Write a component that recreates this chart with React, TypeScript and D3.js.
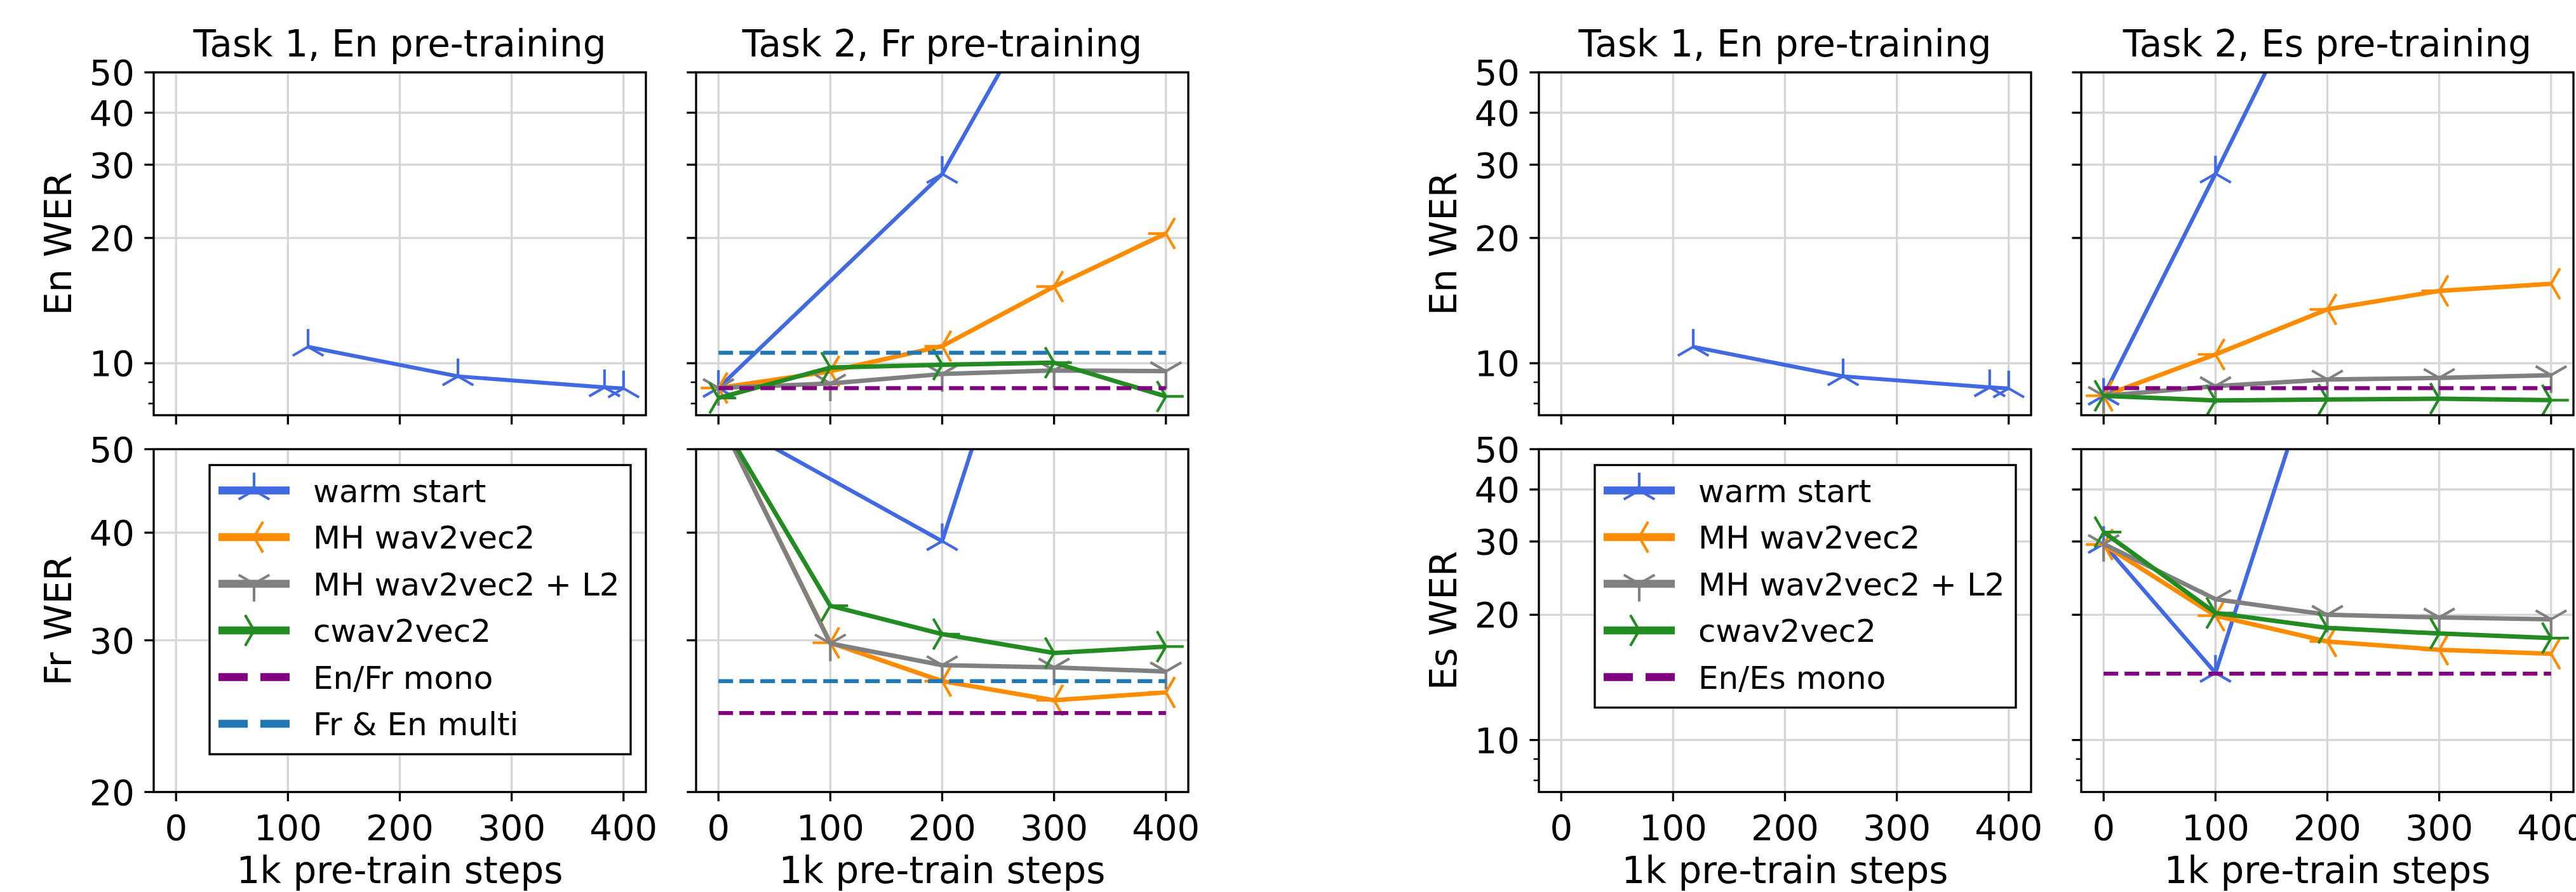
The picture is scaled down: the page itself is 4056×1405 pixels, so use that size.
import React, { useEffect } from 'react';
import * as d3 from 'd3';

// ---------- data ----------
const steps = [0, 100, 200, 300, 400];
const xTicks = [0, 100, 200, 300, 400];
const enTicks = [10, 20, 30, 40, 50];
const enMinorTicks = [8, 9];
const frTicks = [20, 30, 40, 50];

const seriesNames = ['warm start', 'MH wav2vec2', 'MH wav2vec2 + L2', 'cwav2vec2'];
const seriesColors = ['#4169e1', '#ff8c00', '#808080', '#228b22'];
const seriesMarkers = ['tri_up', 'tri_left', 'tri_down', 'tri_right'];

// Task 1: English pre-training
const enPretrainSteps = [118, 252, 383, 400];
const enPretrainEnWer = [10.95, 9.3, 8.75, 8.7];

// Task 2: French pre-training
const warmFrSteps = [0, 200, 400];
const warmFrEnWer = [8.72, 28.5, 255];
const warmFrFrWer = [54.5, 39.1, 250];
const mhFrEnWer = [8.72, 9.56, 10.99, 15.28, 20.5];
const mhFrFrWer = [54.5, 29.8, 26.9, 25.56, 26.1];
const mhl2FrEnWer = [8.72, 8.94, 9.42, 9.61, 9.57];
const mhl2FrFrWer = [54.5, 29.75, 28.07, 27.9, 27.6];
const cwFrEnWer = [8.25, 9.76, 9.92, 10.03, 8.32];
const cwFrFrWer = [54.5, 32.9, 30.5, 29.0, 29.5];
const monoFrEnWer = 8.71;
const monoFrFrWer = 24.7;
const multiFrEnWer = 10.6;
const multiFrFrWer = 26.9;

// Task 2: Spanish pre-training
const warmEsSteps = [0, 100, 200];
const warmEsEnWer = [8.35, 28.55, 100];
const warmEsEsWer = [29.6, 14.5, 99];
const mhEsEnWer = [8.35, 10.5, 13.47, 14.92, 15.52];
const mhEsEsWer = [29.5, 19.9, 17.25, 16.48, 16.12];
const mhl2EsEnWer = [8.35, 8.81, 9.14, 9.22, 9.36];
const mhl2EsEsWer = [29.6, 21.8, 20.0, 19.7, 19.5];
const cwEsEnWer = [8.35, 8.14, 8.18, 8.22, 8.15];
const cwEsEsWer = [31.6, 20.2, 18.6, 18.03, 17.58];
const monoEsEnWer = 8.71;
const monoEsEsWer = 14.44;

const frLegend = [...seriesNames, 'En/Fr mono', 'Fr & En multi'];
const esLegend = [...seriesNames, 'En/Es mono'];

// ---------- style ----------
const W = 4056;
const H = 1405;
const PW = 775;
const PH = 540;
const FONT = '"DejaVu Sans", sans-serif';
const MONO_COLOR = '#800080';
const MULTI_COLOR = '#1f77b4';
const LW = 7;
const MR = 28;

function markerPath(kind, r) {
  const a = 0.866 * r;
  const b = 0.5 * r;
  const arms = {
    tri_up: [[0, -r], [-a, b], [a, b]],
    tri_down: [[0, r], [-a, -b], [a, -b]],
    tri_left: [[-r, 0], [b, -a], [b, a]],
    tri_right: [[r, 0], [-b, -a], [-b, a]],
  }[kind];
  return arms.map(([x, y]) => `M0,0L${x},${y}`).join('');
}

function makeSeries(i, xs, ys) {
  return {
    color: seriesColors[i],
    marker: seriesMarkers[i],
    width: i === 0 ? 6.2 : LW,
    points: xs.map((x, k) => [x, ys[k]]),
  };
}

function Legend({ right, top, labels }) {
  const width = 663;
  const left = right - 24 - width;
  const rowH = 73.5;
  const height = 40 + (labels.length - 1) * rowH + 48;
  return (
    <g>
      <rect x={left} y={top} width={width} height={height} fill="white" stroke="black" strokeWidth={3.3} />
      {labels.map((label, i) => {
        const y = top + 40 + i * rowH;
        const dashed = i >= 4;
        const color = dashed ? (i === 4 ? MONO_COLOR : MULTI_COLOR) : seriesColors[i];
        return (
          <g key={label}>
            <line x1={left + 14} x2={left + 126} y1={y} y2={y} stroke={color} strokeWidth={12.5}
              strokeDasharray={dashed ? '46 20' : undefined} />
            {!dashed && (
              <path d={markerPath(seriesMarkers[i], MR)} transform={`translate(${left + 70},${y})`}
                stroke={color} strokeWidth={4.2} fill="none" />
            )}
            <text x={left + 163} y={y + 18} fontSize={50} fontFamily={FONT}>{label}</text>
          </g>
        );
      })}
    </g>
  );
}

function Panel({ id, left, top, yType, title, yLabel, yTickLabels, xTickLabels, series, hlines, legend }) {
  const x = d3.scaleLinear().domain([-20, 420]).range([left, left + PW]);
  const y = d3.scaleLog().domain(yType === 'fr' ? [20, 50] : [7.5, 50]).range([top + PH, top]);
  const major = yType === 'fr' ? frTicks : enTicks;
  const minor = yType === 'fr' ? [] : enMinorTicks;
  const line = d3.line().x((d) => x(d[0])).y((d) => y(d[1]));
  const bottom = top + PH;

  return (
    <g>
      <defs>
        <clipPath id={id}>
          <rect x={left} y={top} width={PW} height={PH} />
        </clipPath>
      </defs>
      {/* grid */}
      {xTicks.map((t) => (
        <line key={'gx' + t} x1={x(t)} x2={x(t)} y1={top} y2={bottom} stroke="#d6d6d6" strokeWidth={3.3} />
      ))}
      {major.map((t) => (
        <line key={'gy' + t} x1={left} x2={left + PW} y1={y(t)} y2={y(t)} stroke="#d6d6d6" strokeWidth={3.3} />
      ))}
      {/* data */}
      <g clipPath={`url(#${id})`}>
        {series.map((s, i) => (
          <g key={'s' + i}>
            <path d={line(s.points)} fill="none" stroke={s.color} strokeWidth={s.width} strokeLinejoin="round" />
            {s.points.map((p, k) => (
              <path key={k} d={markerPath(s.marker, MR)} transform={`translate(${x(p[0])},${y(p[1])})`}
                stroke={s.color} strokeWidth={4.2} fill="none" />
            ))}
          </g>
        ))}
        {hlines.map((h, i) => (
          <line key={'h' + i} x1={x(0)} x2={x(400)} y1={y(h.value)} y2={y(h.value)}
            stroke={h.color} strokeWidth={6.25} strokeDasharray="23 10" />
        ))}
      </g>
      {/* frame */}
      <rect x={left} y={top} width={PW} height={PH} fill="none" stroke="black" strokeWidth={3.3} />
      {/* y ticks */}
      {major.map((t) => (
        <g key={'yt' + t}>
          <line x1={left - 14.6} x2={left} y1={y(t)} y2={y(t)} stroke="black" strokeWidth={3.3} />
          {yTickLabels && (
            <text x={left - 30} y={y(t)} dy="0.36em" textAnchor="end" fontSize={56} fontFamily={FONT}>{t}</text>
          )}
        </g>
      ))}
      {minor.map((t) => (
        <line key={'ym' + t} x1={left - 8.3} x2={left} y1={y(t)} y2={y(t)} stroke="black" strokeWidth={2.5} />
      ))}
      {/* x ticks */}
      {xTicks.map((t) => (
        <g key={'xt' + t}>
          <line x1={x(t)} x2={x(t)} y1={bottom} y2={bottom + 14.6} stroke="black" strokeWidth={3.3} />
          {xTickLabels && (
            <text x={x(t)} y={bottom + 75} textAnchor="middle" fontSize={56} fontFamily={FONT}>{t}</text>
          )}
        </g>
      ))}
      {xTickLabels && (
        <text x={left + PW / 2} y={bottom + 143} textAnchor="middle" fontSize={58} fontFamily={FONT}>
          1k pre-train steps
        </text>
      )}
      {title && (
        <text x={left + PW / 2} y={top - 25} textAnchor="middle" fontSize={58} fontFamily={FONT}>{title}</text>
      )}
      {yLabel && (
        <text transform={`translate(${left - 130},${top + PH / 2}) rotate(-90)`} textAnchor="middle"
          fontSize={58} fontFamily={FONT}>{yLabel}</text>
      )}
      {legend && <Legend right={left + PW} top={top + 25} labels={legend} />}
    </g>
  );
}

export default function App() {
  useEffect(() => {
    document.body.style.margin = '0';
  }, []);

  const topY = 114;
  const botY = 707.5;
  const cols = [242, 1096, 2423, 3277];

  const enOnly = [makeSeries(0, enPretrainSteps, enPretrainEnWer)];
  const frTop = [
    makeSeries(0, warmFrSteps, warmFrEnWer),
    makeSeries(1, steps, mhFrEnWer),
    makeSeries(2, steps, mhl2FrEnWer),
    makeSeries(3, steps, cwFrEnWer),
  ];
  const frBot = [
    makeSeries(0, warmFrSteps, warmFrFrWer),
    makeSeries(1, steps, mhFrFrWer),
    makeSeries(2, steps, mhl2FrFrWer),
    makeSeries(3, steps, cwFrFrWer),
  ];
  const esTop = [
    makeSeries(0, warmEsSteps, warmEsEnWer),
    makeSeries(1, steps, mhEsEnWer),
    makeSeries(2, steps, mhl2EsEnWer),
    makeSeries(3, steps, cwEsEnWer),
  ];
  const esBot = [
    makeSeries(0, warmEsSteps, warmEsEsWer),
    makeSeries(1, steps, mhEsEsWer),
    makeSeries(2, steps, mhl2EsEsWer),
    makeSeries(3, steps, cwEsEsWer),
  ];

  return (
    <svg width={W} height={H} style={{ display: 'block', background: 'white' }}>
      <rect width={W} height={H} fill="white" />
      <Panel id="pA" left={cols[0]} top={topY} yType="en" title="Task 1, En pre-training" yLabel="En WER"
        yTickLabels xTickLabels={false} series={enOnly} hlines={[]} />
      <Panel id="pB" left={cols[1]} top={topY} yType="en" title="Task 2, Fr pre-training"
        yTickLabels={false} xTickLabels={false} series={frTop}
        hlines={[{ value: monoFrEnWer, color: MONO_COLOR }, { value: multiFrEnWer, color: MULTI_COLOR }]} />
      <Panel id="pC" left={cols[0]} top={botY} yType="fr" yLabel="Fr WER" yTickLabels xTickLabels
        series={[]} hlines={[]} legend={frLegend} />
      <Panel id="pD" left={cols[1]} top={botY} yType="fr" yTickLabels={false} xTickLabels series={frBot}
        hlines={[{ value: monoFrFrWer, color: MONO_COLOR }, { value: multiFrFrWer, color: MULTI_COLOR }]} />

      <Panel id="pE" left={cols[2]} top={topY} yType="en" title="Task 1, En pre-training" yLabel="En WER"
        yTickLabels xTickLabels={false} series={enOnly} hlines={[]} />
      <Panel id="pF" left={cols[3]} top={topY} yType="en" title="Task 2, Es pre-training"
        yTickLabels={false} xTickLabels={false} series={esTop}
        hlines={[{ value: monoEsEnWer, color: MONO_COLOR }]} />
      <Panel id="pG" left={cols[2]} top={botY} yType="es" yLabel="Es WER" yTickLabels xTickLabels
        series={[]} hlines={[]} legend={esLegend} />
      <Panel id="pH" left={cols[3]} top={botY} yType="es" yTickLabels={false} xTickLabels series={esBot}
        hlines={[{ value: monoEsEsWer, color: MONO_COLOR }]} />
    </svg>
  );
}
